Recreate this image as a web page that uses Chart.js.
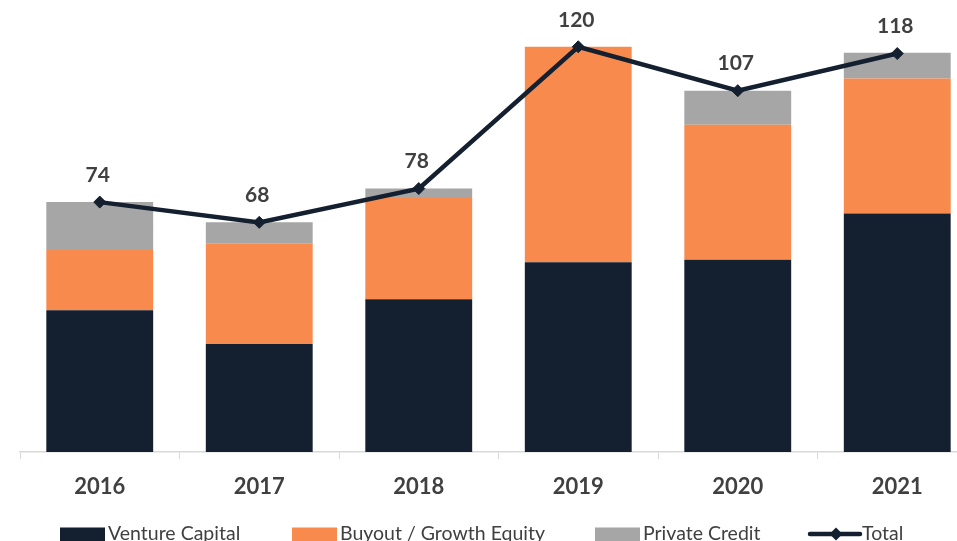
<!DOCTYPE html>
<html>
<head>
<meta charset="utf-8">
<script src="https://cdn.jsdelivr.net/npm/chart.js@4/dist/chart.umd.min.js"></script>
<style>
  html, body { margin: 0; padding: 0; overflow: hidden; background: #ffffff; width: 957px; height: 541px; }
  #c { display: block; position: absolute; left: 0; top: 0; }
</style>
</head>
<body>
<canvas id="c" width="977" height="541" style="width:977px;height:541px"></canvas>
<script>
// ---- Data ----
const years = ['2016', '2017', '2018', '2019', '2020', '2021'];
const ventureCapital = [42.0, 32.0, 45.2, 56.2, 56.9, 70.6];
const buyoutGrowth   = [17.8, 29.8, 30.0, 63.8, 40.0, 40.0];
const privateCredit  = [14.2, 6.2, 2.8, 0, 10.1, 7.6];
const totals         = [74, 68, 78, 120, 107, 118];
const seriesNames    = ['Venture Capital', 'Buyout / Growth Equity', 'Private Credit', 'Total'];

// ---- Styles ----
const NAVY = '#141F2F';
const ORANGE = '#F98A4E';
const GREY = '#A6A6A6';
const TEXT = '#404040';
const FONT = 'Lato, "Open Sans", sans-serif';

const totalLabels = {
  id: 'totalLabels',
  afterDatasetsDraw(chart) {
    const ctx = chart.ctx;
    const meta = chart.getDatasetMeta(3);
    ctx.save();
    ctx.font = 'bold 21px ' + FONT;
    ctx.fillStyle = TEXT;
    ctx.textAlign = 'center';
    ctx.textBaseline = 'middle';
    meta.data.forEach((pt, i) => {
      ctx.fillText(String(totals[i]), pt.x - 2, pt.y - 27);
    });
    ctx.restore();
  }
};

const customLegend = {
  id: 'customLegend',
  afterDraw(chart) {
    const ctx = chart.ctx;
    const items = [
      { x: 60, color: NAVY, kind: 'box' },
      { x: 292, color: ORANGE, kind: 'box' },
      { x: 595, color: GREY, kind: 'box' },
      { x: 808, color: NAVY, kind: 'line' }
    ];
    const base = 540;
    const cy = 534;
    ctx.save();
    ctx.font = '19.5px ' + FONT;
    ctx.textBaseline = 'alphabetic';
    ctx.textAlign = 'left';
    items.forEach((it, i) => {
      if (it.kind === 'box') {
        ctx.fillStyle = it.color;
        ctx.fillRect(it.x, 527.5, 45, 14);
        ctx.fillStyle = TEXT;
        ctx.fillText(seriesNames[i], it.x + 48, base);
      } else {
        ctx.strokeStyle = it.color;
        ctx.lineWidth = 4.5;
        ctx.lineCap = 'round';
        ctx.beginPath();
        ctx.moveTo(it.x + 2, cy);
        ctx.lineTo(it.x + 52, cy);
        ctx.stroke();
        ctx.fillStyle = it.color;
        ctx.beginPath();
        const dx = it.x + 28, r = 6.5;
        ctx.moveTo(dx, cy - r);
        ctx.lineTo(dx + r, cy);
        ctx.lineTo(dx, cy + r);
        ctx.lineTo(dx - r, cy);
        ctx.closePath();
        ctx.fill();
        ctx.fillStyle = TEXT;
        ctx.fillText(seriesNames[i], it.x + 54, base);
      }
    });
    ctx.restore();
  }
};

new Chart(document.getElementById('c'), {
  type: 'bar',
  data: {
    labels: years,
    datasets: [
      { label: seriesNames[0], data: ventureCapital, backgroundColor: NAVY, stack: 's', order: 2,
        categoryPercentage: 1, barPercentage: 0.67 },
      { label: seriesNames[1], data: buyoutGrowth, backgroundColor: ORANGE, stack: 's', order: 2,
        categoryPercentage: 1, barPercentage: 0.67 },
      { label: seriesNames[2], data: privateCredit, backgroundColor: GREY, stack: 's', order: 2,
        categoryPercentage: 1, barPercentage: 0.67 },
      { type: 'line', label: seriesNames[3], data: totals, yAxisID: 'y2', order: 0,
        borderColor: NAVY, backgroundColor: NAVY, borderWidth: 4.5,
        pointStyle: 'rectRot', pointRadius: 6, pointBackgroundColor: NAVY, pointBorderColor: NAVY,
        pointBorderWidth: 1, tension: 0, fill: false, clip: false }
    ]
  },
  options: {
    responsive: false,
    maintainAspectRatio: false,
    animation: false,
    devicePixelRatio: 1,
    layout: { autoPadding: false, padding: { left: 20, right: 0, top: 13, bottom: 0 } },
    plugins: {
      legend: { display: false },
      tooltip: { enabled: false }
    },
    scales: {
      x: {
        stacked: true,
        offset: true,
        grid: { display: true, offset: true, drawOnChartArea: false, drawTicks: true,
                tickLength: 7, color: '#D9D9D9', lineWidth: 1 },
        border: { display: true, color: '#D9D9D9', width: 1.5 },
        ticks: { font: { family: FONT, size: 22, weight: 'bold' }, color: TEXT, padding: 15, maxRotation: 0 },
        afterFit(scale) { scale.height = 89; scale.paddingLeft = 0; scale.paddingRight = 0; }
      },
      y: { stacked: true, display: false, min: 0, max: 130 },
      y2: { display: false, min: 0, max: 130, stacked: false }
    }
  },
  plugins: [totalLabels, customLegend]
});
</script>
</body>
</html>
